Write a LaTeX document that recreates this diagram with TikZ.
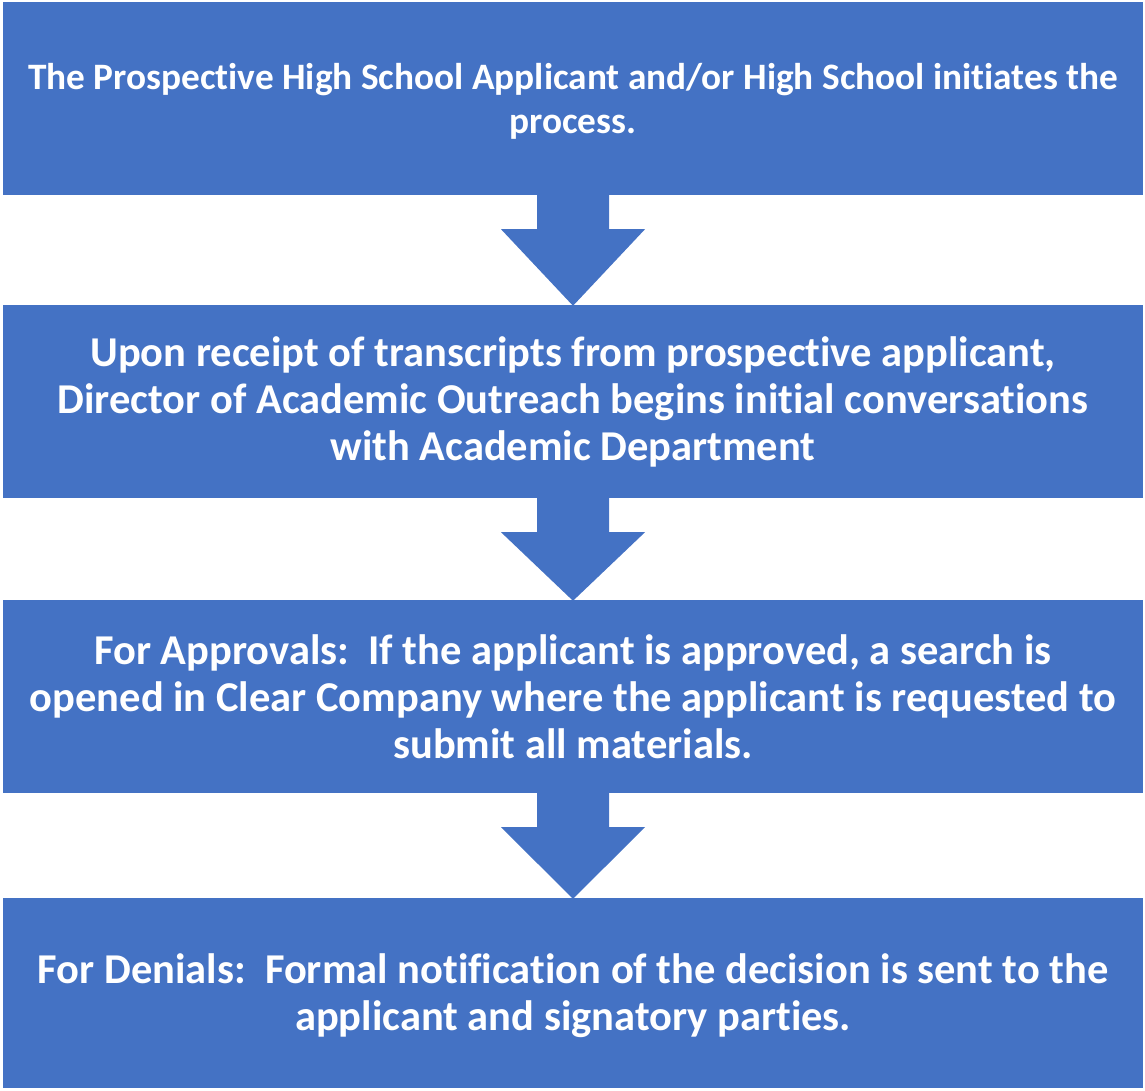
\documentclass[tikz,border=0pt]{standalone}
\usepackage{fontspec}
\setmainfont{Carlito}[Ligatures=NoCommon]
\usetikzlibrary{calc,positioning}
\definecolor{OfficeBlue}{RGB}{68,114,196}

\newcommand{\lowered}[1]{\raisebox{-3pt}[\height][\depth]{\parbox{1140pt}{\centering #1}}}

\tikzset{
  stepbox/.style={fill=OfficeBlue,text=white,inner sep=0pt,
    minimum width=1140pt,minimum height=193pt,align=center,
    font=\bfseries\fontsize{42.5}{47}\selectfont},
  downarrow/.style={fill=OfficeBlue}
}

\begin{document}
\begin{tikzpicture}[x=1pt,y=1pt]
      \useasboundingbox (0,0) rectangle (1145,-1090);
      \node[stepbox,font=\bfseries\fontsize{37.3}{44}\selectfont] (start) at (573,-98.5)
        {\lowered{The Prospective High School Applicant and/or High School initiates the\\process.}};
      \node[stepbox] (talks) at (573,-401.5)
        {Upon receipt of transcripts from prospective applicant,\\Director of Academic Outreach begins initial conversations\\with Academic Department};
      \node[stepbox] (approve) at (573,-696.5)
        {For Approvals:\ \ If the applicant is approved, a search is\\opened in Clear Company where the applicant is requested to\\submit all materials.};
      \node[stepbox,minimum height=190pt] (deny) at (573,-993)
        {\lowered{For Denials:\ \ Formal notification of the decision is sent to the\\applicant and signatory parties.}};
      % block arrows between the steps
      \foreach \a/\b in {start/talks,talks/approve,approve/deny}{
        \coordinate (tip) at ($(\b.north)+(0,-1)$);
        \fill[downarrow] ($(\a.south)+(-36,0.5)$) -- ++(0,-34.5) -- ++(-36,0)
          -- (tip) -- ($(\a.south)+(72,-34)$) -- ++(-36,0) -- ($(\a.south)+(36,0.5)$) -- cycle;
      }
    \end{tikzpicture}
\end{document}
